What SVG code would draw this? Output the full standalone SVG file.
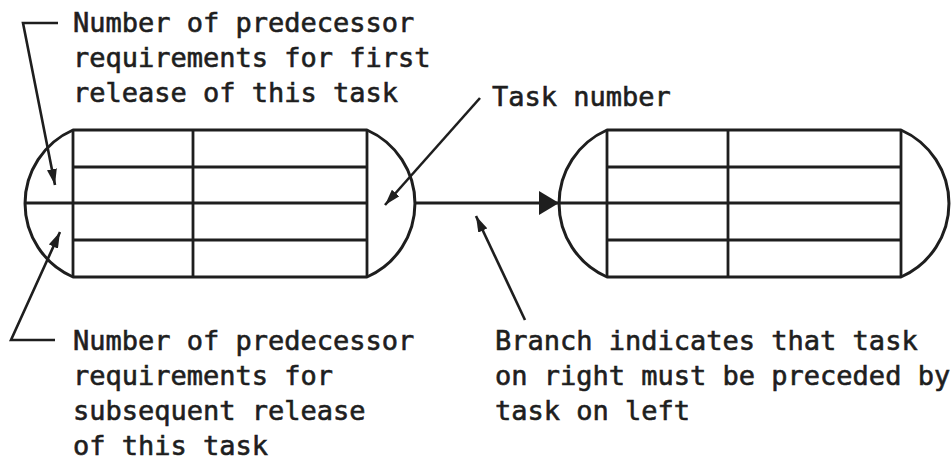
<svg xmlns="http://www.w3.org/2000/svg" width="951" height="468" viewBox="0 0 951 468">
<style>
.shape{fill:none;stroke:#1e1e1e;stroke-width:3;stroke-linejoin:round}
.line{fill:none;stroke:#1e1e1e;stroke-width:2.8}
.lead{fill:none;stroke:#1e1e1e;stroke-width:2.6}
text{font-family:"DejaVu Sans Mono","Liberation Mono",monospace;font-size:27px;fill:#1e1e1e;stroke:#1e1e1e;stroke-width:0.6}
</style>
<defs>
<marker id="small" viewBox="0 0 16 10" refX="16" refY="5" markerWidth="16" markerHeight="10" markerUnits="userSpaceOnUse" orient="auto">
<path d="M0,0 L16,5 L0,10 Z" fill="#1e1e1e"/>
</marker>
<marker id="big" viewBox="0 0 20 24" refX="20" refY="12" markerWidth="20" markerHeight="24" markerUnits="userSpaceOnUse" orient="auto">
<path d="M0,0 L20,12 L0,24 Z" fill="#1e1e1e"/>
</marker>
</defs>
<rect width="951" height="468" fill="#ffffff"/>
<g id="node-left">
<path class="shape" d="M73,130 H367 A80.3,80.3 0 0 1 367,277 H73 A80.3,80.3 0 0 1 73,130 Z"/>
<path class="line" d="M73,130 V277 M367,130 V277 M193,130 V277 M73,167 H367 M25,203 H367 M73,240 H367"/>
</g>
<g id="node-right">
<path class="shape" d="M607,130 H901 A80.3,80.3 0 0 1 901,277 H607 A80.3,80.3 0 0 1 607,130 Z"/>
<path class="line" d="M607,130 V277 M901,130 V277 M728,130 V277 M607,167 H901 M559,203 H901 M607,240 H901"/>
</g>
<g id="connectors">
<line class="line" x1="415" y1="203" x2="559" y2="203" marker-end="url(#big)"/>
<polyline class="lead" points="58,23 23,23 55,185" marker-end="url(#small)"/>
<polyline class="lead" points="55,340 11,340 60,232" marker-end="url(#small)"/>
<line class="lead" x1="480" y1="98" x2="385" y2="205" marker-end="url(#small)"/>
<line class="lead" x1="525" y1="320" x2="476" y2="216" marker-end="url(#small)"/>
</g>
<g id="labels">
<text x="73" y="32">Number of predecessor</text>
<text x="73" y="67">requirements for first</text>
<text x="73" y="102">release of this task</text>
<text x="492" y="106">Task number</text>
<text x="73" y="350">Number of predecessor</text>
<text x="73" y="385">requirements for</text>
<text x="73" y="420">subsequent release</text>
<text x="73" y="455">of this task</text>
<text x="495" y="350">Branch indicates that task</text>
<text x="495" y="385">on right must be preceded by</text>
<text x="495" y="420">task on left</text>
</g>
</svg>
